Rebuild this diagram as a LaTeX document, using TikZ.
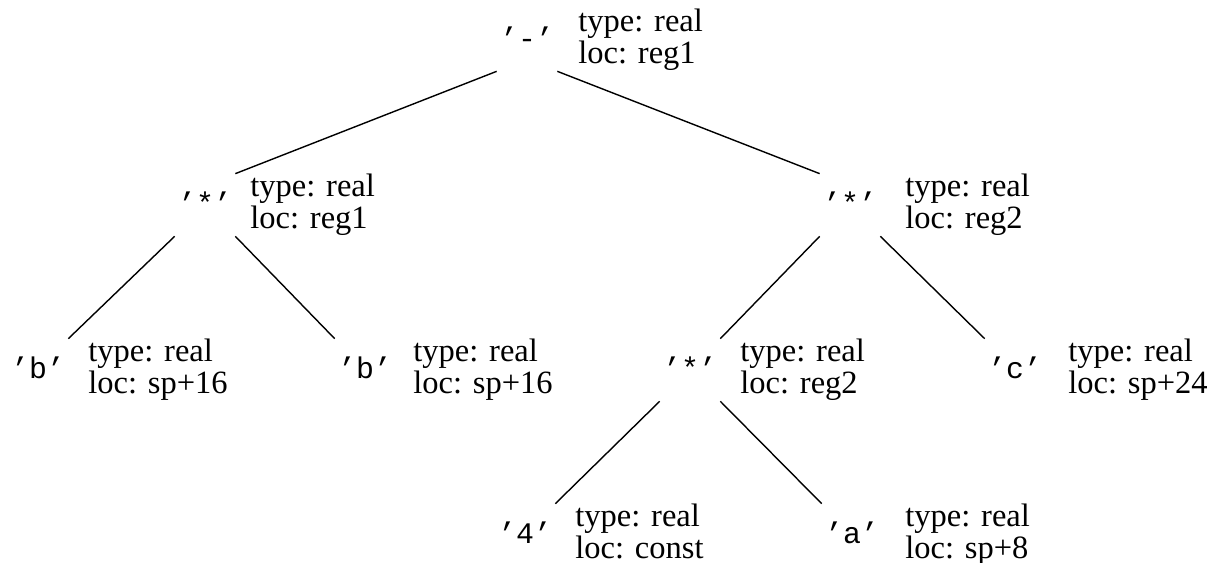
\documentclass[tikz,border=0pt]{standalone}
\usepackage{fontspec}
\setmainfont{Liberation Serif}
\newfontfamily\qfont{Liberation Mono}
\begin{document}
\begin{tikzpicture}[x=0.02cm,y=-0.02cm,
  sym/.style={font=\qfont\fontsize{17pt}{18pt}\selectfont, minimum width=1.2cm, minimum height=1.24cm, inner sep=0pt, text height=0.34cm, text depth=0cm},
  info/.style={anchor=north west, inner sep=0pt, align=left, font=\fontsize{18.5pt}{16pt}\selectfont},
  edge/.style={draw=black, line width=0.8pt}]
\useasboundingbox (0,0) rectangle (1214,563);
% symbol nodes (centres)
\node[sym] (r)  at (527,40)  {’-’};
\node[sym] (l)  at (205,205) {’*’};
\node[sym] (m)  at (850,205) {’*’};
\node[sym] (b1) at (38,370)  {’b’};
\node[sym] (b2) at (365,370) {’b’};
\node[sym] (s)  at (690,370) {’*’};
\node[sym] (c)  at (1015,370){’c’};
\node[sym] (f)  at (525,535) {’4’};
\node[sym] (a)  at (852,535) {’a’};
% info nodes
\node[info] (ri)  at (578,9)    {type: real\\loc: reg1};
\node[info] (li)  at (250,174)  {type: real\\loc: reg1};
\node[info] (mi)  at (905,174)  {type: real\\loc: reg2};
\node[info] (b1i) at (88,339)   {type: real\\loc: sp+16};
\node[info] (b2i) at (413,339)  {type: real\\loc: sp+16};
\node[info] (si)  at (740,339)  {type: real\\loc: reg2};
\node[info] (ci)  at (1068,339) {type: real\\loc: sp+24};
\node[info] (fi)  at (575,504)  {type: real\\loc: const};
\node[info] (ai)  at (905,504)  {type: real\\loc: sp+8};
% edges
\draw[edge] (r.south west) -- (l.north east);
\draw[edge] (r.south east) -- (m.north west);
\draw[edge] (l.south west) -- (b1.north east);
\draw[edge] (l.south east) -- (b2.north west);
\draw[edge] (m.south west) -- (s.north east);
\draw[edge] (m.south east) -- (c.north west);
\draw[edge] (s.south west) -- (f.north east);
\draw[edge] (s.south east) -- (a.north west);
\end{tikzpicture}
\end{document}
